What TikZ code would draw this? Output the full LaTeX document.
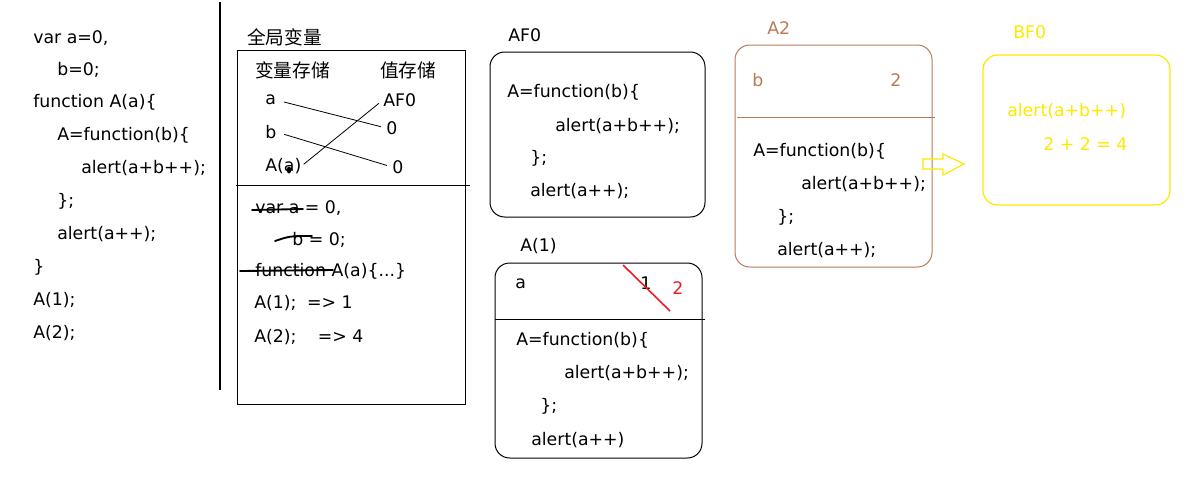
\documentclass[tikz,border=0pt]{standalone}
\usepackage{fontspec}
\setmainfont{DejaVu Sans}
\newfontfamily\cjk{Noto Sans CJK SC}
\definecolor{paintbrown}{RGB}{185,122,87}
\definecolor{paintyellow}{RGB}{255,232,0}
\definecolor{paintred}{RGB}{237,28,36}
\begin{document}
\begin{tikzpicture}[x=0.75pt, y=-0.75pt,
      every node/.style={anchor=west, inner sep=0pt, font=\fontsize{13}{15}\selectfont},
      zh/.style={font=\fontsize{14}{16}\selectfont\cjk},
      box/.style={draw, line width=0.75pt, rounded corners=11pt},
      strike/.style={line width=1.4pt, line cap=round},
      link/.style={line width=0.6pt, shorten <=6pt, shorten >=4pt}
    ]
    \useasboundingbox (0,0) rectangle (1192,494);

    % Source code
    \node (s1) at (33,38) {var a=0,};
    \node (s2) at (57,70) {b=0;};
    \node (s3) at (33,102) {function A(a)\{};
    \node (s4) at (57,135) {A=function(b)\{};
    \node (s5) at (81,168) {alert(a+b++);};
    \node (s6) at (57,201) {\};};
    \node (s7) at (57,234) {alert(a++);};
    \node (s8) at (33,267) {\}};
    \node (s9) at (33,300) {A(1);};
    \node (s10) at (33,333) {A(2);};
    \draw[line width=0.9pt] (220,2) -- (220,390);

    % Global scope
    \node[zh] (G) at (247,37) {全局变量};
    \draw[line width=0.75pt] (237,50) rectangle (465,404);
    \node[zh] (hv) at (255,70) {变量存储};
    \node[zh] (hw) at (380,70) {值存储};
    \node (va) at (265,100) {a};
    \node (vb) at (265,132) {b};
    \node (vA) at (265,166) {A(a)};
    \node (wA) at (383,100) {AF0};
    \node (wa) at (386,128) {0};
    \node (wb) at (392,167) {0};
    \fill (289,170) ellipse (2.2 and 3.5);
    \draw[link] (va.east) -- (wa.west);
    \draw[link] (vb.east) -- (wb.west);
    \draw[link, shorten <=2pt] (vA.east) -- (wA.west);
    \draw[line width=0.75pt] (236,185) -- (470,185);

    \node (r1) at (255,208) {var a = 0,};
    \node (r2) at (292,240) {b = 0;};
    \node (r3) at (255,271) {function A(a)\{...\}};
    \node (r4) at (254,303) {A(1);\hspace{8pt}=> 1};
    \node (r5) at (254,337) {A(2);\hspace{16pt}=> 4};
    \draw[strike] (252,210) -- (303,209);
    \draw[strike] (275,241) .. controls (290,236) .. (312,236);
    \draw[strike] (240,271) -- (333,270);

    % AF0
    \node (F) at (508,35) {AF0};
    \draw[box] (490,52) rectangle (705,217);
    \node (f1) at (507,92) {A=function(b)\{};
    \node (f2) at (555,126) {alert(a+b++);};
    \node (f3) at (530,158) {\};};
    \node (f4) at (530,191) {alert(a++);};

    % A(1)
    \node (P) at (520,246) {A(1)};
    \draw[box] (495,263) rectangle (702,458);
    \draw[line width=0.75pt] (495,319) -- (705,319);
    \node (pa) at (515,284) {a};
    \node (p1) at (640,283) {1};
    \node[text=paintred] (p2) at (672,288) {2};
    \draw[paintred, line width=1.2pt] (623,265) -- (670,311);
    \node (q1) at (516,340) {A=function(b)\{};
    \node (q2) at (564,373) {alert(a+b++);};
    \node (q3) at (540,406) {\};};
    \node (q4) at (531,440) {alert(a++)};

    % A2
    \node[text=paintbrown] (Q) at (767,28) {A2};
    \draw[box, paintbrown] (735,45) rectangle (932,267);
    \draw[paintbrown, line width=0.75pt] (737,117) -- (935,117);
    \node[text=paintbrown] (qb) at (752,80) {b};
    \node[text=paintbrown] (q2v) at (890,80) {2};
    \node (t1) at (753,151) {A=function(b)\{};
    \node (t2) at (801,184) {alert(a+b++);};
    \node (t3) at (777,217) {\};};
    \node (t4) at (777,250) {alert(a++);};

    % arrow
    \draw[paintyellow, line width=0.9pt]
      (923,159) -- (943,159) -- (943,154) -- (964,164) -- (943,175) -- (943,169) -- (923,169) -- cycle;

    % BF0
    \node[text=paintyellow] (B) at (1013,32) {BF0};
    \draw[box, paintyellow, line width=0.9pt] (983,55) rectangle (1170,205);
    \node[text=paintyellow] (b1) at (1007,111) {alert(a+b++)};
    \node[text=paintyellow] (b2) at (1043,144) {2 + 2 = 4};

\end{tikzpicture}
\end{document}
